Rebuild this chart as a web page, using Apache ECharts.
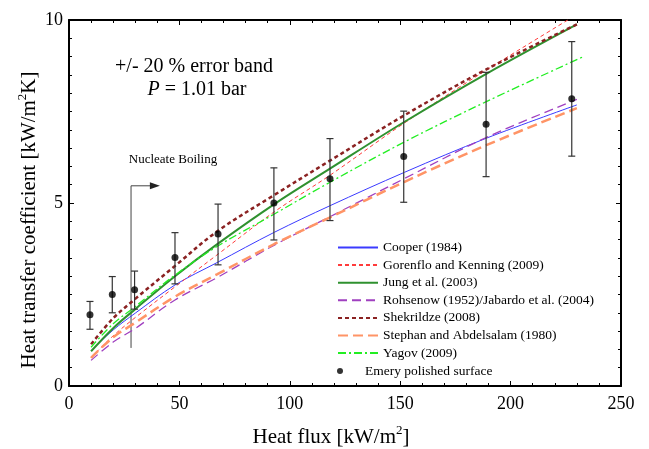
<!DOCTYPE html>
<html>
<head>
<meta charset="utf-8">
<script src="https://cdn.jsdelivr.net/npm/echarts@6/dist/echarts.min.js"></script>
<style>
  html, body { margin: 0; padding: 0; background: #fff; }
  #chart { width: 649px; height: 449px; }
</style>
</head>
<body>
<div id="chart"></div>
<script>
// 曲线取样点 (heat flux)
var curveX = [10, 20, 30, 48, 67, 93, 118, 152, 189, 230];
var yagovX = [10, 20, 30, 48, 67, 93, 118, 152, 189, 233];
var cooper = [0.96, 1.53, 1.99, 2.76, 3.37, 4.20, 4.92, 5.84, 6.77, 7.68];
var gorenflo = [0.78, 1.37, 1.87, 2.71, 3.58, 4.76, 5.75, 7.19, 8.63, 10.15];
var jung = [0.95, 1.58, 2.10, 3.00, 3.87, 4.97, 5.93, 7.22, 8.53, 9.88];
var rohsenow = [0.70, 1.20, 1.57, 2.35, 2.96, 3.85, 4.62, 5.67, 6.79, 7.83];
var shekrildze = [1.14, 1.85, 2.38, 3.28, 4.22, 5.22, 6.15, 7.40, 8.65, 9.88];
var stephan = [0.77, 1.33, 1.73, 2.44, 3.05, 3.88, 4.60, 5.58, 6.58, 7.59];
var yagov = [1.06, 1.70, 2.17, 3.03, 3.81, 4.70, 5.56, 6.67, 7.77, 9.00];

// 实验点 + 误差棒
var expX = [9.5, 19.6, 29.7, 48.0, 67.5, 92.8, 118.2, 151.6, 188.9, 227.7];
var expY = [1.95, 2.50, 2.63, 3.51, 4.15, 5.00, 5.66, 6.27, 7.15, 7.85];
var expLow = [1.55, 2.00, 2.10, 2.79, 3.31, 3.99, 4.52, 5.02, 5.72, 6.28];
var expHigh = [2.31, 2.99, 3.14, 4.19, 4.97, 5.96, 6.76, 7.51, 8.57, 9.41];

// Nucleate Boiling 箭头
var arrowPts = [[28.1, 1.04], [28.1, 5.47], [38.9, 5.47]];

var xTicks = [0, 50, 100, 150, 200, 250];
var yTicks = [0, 5, 10];

var FONT = 'Liberation Serif';

function pairs(xs, ys) {
    return xs.map(function (x, i) { return [x, ys[i]]; });
}

function curve(name, xs, ys, color, width, type) {
    return {
        name: name,
        type: 'line',
        smooth: 0.35,
        symbol: 'none',
        clip: true,
        data: pairs(xs, ys),
        lineStyle: { color: color, width: width, type: type },
        itemStyle: { color: color },
        z: 3
    };
}

var chart = echarts.init(document.getElementById('chart'));

function baseAxis(extra) {
    var ax = {
        axisLine: { show: true, onZero: false, lineStyle: { color: '#000', width: 2 } },
        axisTick: { show: true, inside: true, length: 5, lineStyle: { color: '#000', width: 1 } },
        splitLine: { show: false },
        axisLabel: { color: '#000', fontFamily: FONT, fontSize: 18 }
    };
    for (var k in extra) ax[k] = extra[k];
    return ax;
}

var legendText = { fontFamily: FONT, fontSize: 13.5, color: '#000' };

var option = {
    animation: false,
    backgroundColor: '#fff',
    grid: { left: 69, right: 28, top: 20, bottom: 63 },
    xAxis: [
        baseAxis({ type: 'value', min: 0, max: 250, interval: 50, position: 'bottom',
            minorTick: { show: true, splitNumber: 5, length: 3, lineStyle: { color: '#000' } },
            axisLabel: { color: '#000', fontFamily: FONT, fontSize: 18, margin: 9,
                formatter: function (v) { return xTicks.indexOf(v) >= 0 ? v : ''; } } }),
        baseAxis({ type: 'value', min: 0, max: 250, interval: 50, position: 'top',
            minorTick: { show: true, splitNumber: 5, length: 3, lineStyle: { color: '#000' } },
            axisLabel: { show: false } })
    ],
    yAxis: [
        baseAxis({ type: 'value', min: 0, max: 10, interval: 5, position: 'left',
            minorTick: { show: true, splitNumber: 10, length: 3, lineStyle: { color: '#000' } },
            axisLabel: { color: '#000', fontFamily: FONT, fontSize: 18, margin: 6,
                formatter: function (v) { return yTicks.indexOf(v) >= 0 ? v : ''; } } }),
        baseAxis({ type: 'value', min: 0, max: 10, interval: 5, position: 'right',
            minorTick: { show: true, splitNumber: 10, length: 3, lineStyle: { color: '#000' } },
            axisLabel: { show: false } })
    ],
    legend: [
        {
            orient: 'vertical',
            left: 337,
            top: 240.5,
            padding: 0,
            itemWidth: 40,
            itemHeight: 14,
            itemGap: 3.6,
            itemStyle: { opacity: 0 },
            textStyle: legendText,
            data: ['Cooper (1984)', 'Gorenflo and Kenning (2009)', 'Jung et al. (2003)',
                'Rohsenow (1952)/Jabardo et al. (2004)', 'Shekrildze (2008)',
                'Stephan and Abdelsalam (1980)', 'Yagov (2009)']
        },
        {
            orient: 'vertical',
            left: 337,
            top: 364,
            padding: 0,
            itemWidth: 40,
            itemHeight: 6,
            textStyle: legendText,
            data: ['Emery polished surface']
        }
    ],
    graphic: [
        { type: 'text', x: 194, y: 67, style: { text: '+/- 20 % error band', font: '20px "Liberation Serif"',
            fill: '#000', align: 'center', verticalAlign: 'middle' } },
        { type: 'text', x: 197, y: 90, style: {
            text: '{i|P} = 1.01 bar', fill: '#000', align: 'center', verticalAlign: 'middle',
            fontFamily: FONT, fontSize: 20,
            rich: { i: { fontFamily: FONT, fontSize: 20, fontStyle: 'italic' } } } },
        { type: 'text', x: 173, y: 160, style: { text: 'Nucleate Boiling', font: '13px "Liberation Serif"',
            fill: '#000', align: 'center', verticalAlign: 'middle' } },
        { type: 'text', x: 331, y: 437, style: {
            text: 'Heat flux [kW/m{s|2}]', fill: '#000', align: 'center', verticalAlign: 'middle',
            fontFamily: FONT, fontSize: 21, lineHeight: 26,
            rich: { s: { fontFamily: FONT, fontSize: 13, verticalAlign: 'top', lineHeight: 26 } } } },
        { type: 'text', x: 29, y: 220, rotation: Math.PI / 2, style: {
            text: 'Heat transfer coefficient [kW/m{s|2}K]', fill: '#000', align: 'center', verticalAlign: 'middle',
            fontFamily: FONT, fontSize: 21, lineHeight: 26,
            rich: { s: { fontFamily: FONT, fontSize: 13, verticalAlign: 'top', lineHeight: 26 } } } }
    ],
    series: [
        curve('Cooper (1984)', curveX, cooper, '#3b3bff', 1, 'solid'),
        curve('Gorenflo and Kenning (2009)', curveX, gorenflo, '#ff3b3b', 1, [4, 3]),
        curve('Jung et al. (2003)', curveX, jung, '#2f912f', 2, 'solid'),
        curve('Rohsenow (1952)/Jabardo et al. (2004)', curveX, rohsenow, '#a040c0', 1.3, [9, 5]),
        curve('Shekrildze (2008)', curveX, shekrildze, '#8b2222', 2.5, [4, 3]),
        curve('Stephan and Abdelsalam (1980)', curveX, stephan, '#ff9466', 2.5, [10, 5]),
        curve('Yagov (2009)', yagovX, yagov, '#22ee22', 1.3, [8, 3, 2, 3]),
        {
            // 误差棒
            type: 'custom',
            silent: true,
            data: expX.map(function (x, i) { return [x, expLow[i], expHigh[i]]; }),
            renderItem: function (params, api) {
                var lo = api.coord([api.value(0), api.value(1)]);
                var hi = api.coord([api.value(0), api.value(2)]);
                var st = { stroke: '#333', lineWidth: 1.2 };
                return {
                    type: 'group',
                    children: [
                        { type: 'line', shape: { x1: lo[0], y1: lo[1], x2: hi[0], y2: hi[1] }, style: st },
                        { type: 'line', shape: { x1: lo[0] - 3.5, y1: lo[1], x2: lo[0] + 3.5, y2: lo[1] }, style: st },
                        { type: 'line', shape: { x1: hi[0] - 3.5, y1: hi[1], x2: hi[0] + 3.5, y2: hi[1] }, style: st }
                    ]
                };
            },
            z: 4
        },
        {
            name: 'Emery polished surface',
            type: 'scatter',
            symbol: 'circle',
            symbolSize: 7,
            data: pairs(expX, expY),
            itemStyle: { color: '#000' },
            z: 5
        },
        {
            // Nucleate Boiling 箭头
            type: 'line',
            silent: true,
            data: arrowPts.map(function (p, i) {
                if (i === arrowPts.length - 1) {
                    return { value: p, symbol: 'triangle', symbolRotate: -90, symbolSize: [7, 10] };
                }
                return { value: p, symbol: 'none' };
            }),
            showSymbol: true,
            lineStyle: { color: '#444', width: 1 },
            itemStyle: { color: '#222' },
            z: 2
        }
    ]
};

chart.setOption(option);
</script>
</body>
</html>
